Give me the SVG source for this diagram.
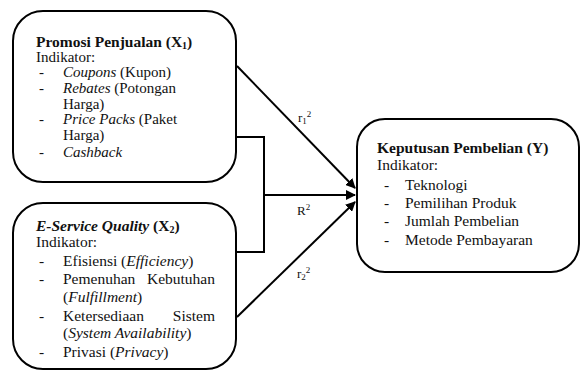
<svg xmlns="http://www.w3.org/2000/svg" width="581" height="371" viewBox="0 0 581 371">
<style>
.box{fill:#fff;stroke:#000;stroke-width:2}
text{font-family:"Liberation Serif","Times New Roman",serif;font-size:15.5px;fill:#111}
#x1 text{font-size:15px}
.b{font-weight:bold}
.i{font-style:italic}
.conn{fill:none;stroke:#000;stroke-width:2}
.lbl{font-size:13px}
.sub{font-size:9px}
</style>
<defs>
<marker id="ah" viewBox="0 0 10 10" refX="9" refY="5" markerWidth="5" markerHeight="5" orient="auto" markerUnits="strokeWidth">
<path d="M0,0 L10,5 L0,10 z" fill="#000"/>
</marker>
</defs>
<g id="connectors">
<path class="conn" d="M237,66 L355,188" marker-end="url(#ah)"/>
<path class="conn" d="M237,137 L264,137 L264,252 L237,252"/>
<path class="conn" d="M264,195 L355,195" marker-end="url(#ah)"/>
<path class="conn" d="M237,317 L355,202" marker-end="url(#ah)"/>
<text class="lbl" x="298" y="122">r<tspan class="sub" dy="2">1</tspan><tspan class="sub" dy="-7">2</tspan></text>
<text class="lbl" x="297" y="215">R<tspan class="sub" dy="-5">2</tspan></text>
<text class="lbl" x="297" y="278">r<tspan class="sub" dy="2">2</tspan><tspan class="sub" dy="-7">2</tspan></text>
</g>
<g id="x1">
<rect class="box" x="13" y="11" width="223" height="171" rx="30"/>
<text class="b" x="36" y="47" style="font-size:15.5px">Promosi Penjualan (X<tspan font-size="10" dy="2">1</tspan><tspan dy="-2">)</tspan></text>
<text x="36" y="62">Indikator:</text>
<text x="39" y="77">-</text><text x="63" y="77"><tspan class="i">Coupons</tspan> (Kupon)</text>
<text x="39" y="93">-</text><text x="63" y="93"><tspan class="i">Rebates</tspan> (Potongan</text>
<text x="63" y="109">Harga)</text>
<text x="39" y="124">-</text><text x="63" y="124"><tspan class="i">Price Packs</tspan> (Paket</text>
<text x="63" y="140">Harga)</text>
<text x="39" y="157">-</text><text x="63" y="157" class="i">Cashback</text>
</g>
<g id="x2">
<rect class="box" x="13" y="203" width="223" height="166" rx="30"/>
<text class="b i" x="36" y="231">E-Service Quality <tspan font-style="normal">(X<tspan font-size="10" dy="2">2</tspan><tspan dy="-2">)</tspan></tspan></text>
<text x="36" y="247">Indikator:</text>
<text x="39" y="266">-</text><text x="63" y="266">Efisiensi (<tspan class="i">Efficiency</tspan>)</text>
<text x="39" y="284">-</text><text x="63" y="284">Pemenuhan</text><text x="215" y="284" text-anchor="end">Kebutuhan</text>
<text x="63" y="302">(<tspan class="i">Fulfillment</tspan>)</text>
<text x="39" y="321">-</text><text x="63" y="321">Ketersediaan</text><text x="215" y="321" text-anchor="end">Sistem</text>
<text x="63" y="338">(<tspan class="i">System Availability</tspan>)</text>
<text x="39" y="357">-</text><text x="63" y="357">Privasi (<tspan class="i">Privacy</tspan>)</text>
</g>
<g id="y">
<rect class="box" x="357" y="119" width="222" height="153" rx="28"/>
<text class="b" x="377" y="153">Keputusan Pembelian (Y)</text>
<text x="377" y="170">Indikator:</text>
<text x="384" y="190">-</text><text x="405" y="190">Teknologi</text>
<text x="384" y="208">-</text><text x="405" y="208">Pemilihan Produk</text>
<text x="384" y="226">-</text><text x="405" y="226">Jumlah Pembelian</text>
<text x="384" y="245">-</text><text x="405" y="245">Metode Pembayaran</text>
</g>
</svg>
